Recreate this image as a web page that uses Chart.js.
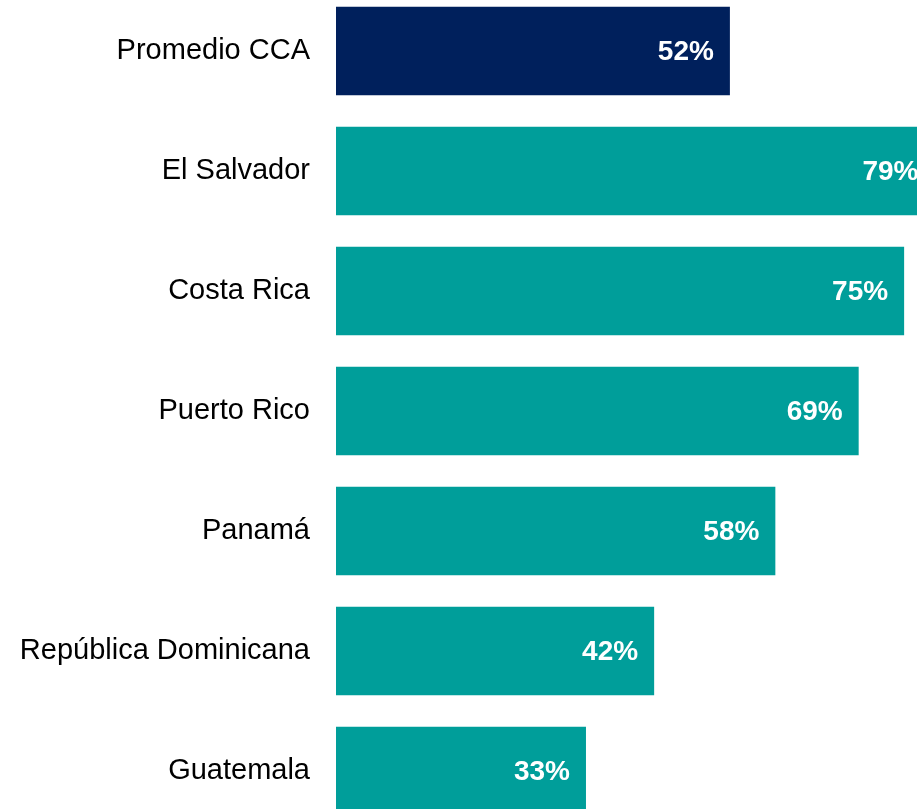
<!DOCTYPE html>
<html lang="es">
<head>
<meta charset="utf-8">
<title>Promedio CCA</title>
<script src="https://cdn.jsdelivr.net/npm/chart.js@4.4.1/dist/chart.umd.min.js"></script>
<style>
  html, body {
    margin: 0;
    padding: 0;
    background: #ffffff;
    overflow: hidden;
  }
  #chartBox {
    position: absolute;
    left: 0;
    top: -9px;
    width: 942px;
    height: 840px;
  }
</style>
</head>
<body>
<div id="chartBox"><canvas id="myChart"></canvas></div>
<script>
const countries = [
  "Promedio CCA",
  "El Salvador",
  "Costa Rica",
  "Puerto Rico",
  "Panamá",
  "República Dominicana",
  "Guatemala",
];
const percentages = [52, 79, 75, 69, 58, 42, 33];

const navy = "#00205c";
const teal = "#009e9a";
const fontFamily = "'Liberation Sans', Arial, Helvetica, sans-serif";

// first bar is the regional average, the rest are countries
let barColors = countries.map((name, i) => (i === 0 ? navy : teal));

// white bold value at the inner end of each bar
const valueLabels = {
  id: "valueLabels",
  afterDatasetsDraw(chart) {
    let ctx = chart.ctx;
    let meta = chart.getDatasetMeta(0);
    ctx.save();
    ctx.fillStyle = "#ffffff";
    ctx.font = "bold 28px " + fontFamily;
    ctx.textAlign = "right";
    ctx.textBaseline = "middle";
    meta.data.forEach((bar, i) => {
      ctx.fillText(percentages[i] + "%", bar.x - 16, bar.y + 1);
    });
    ctx.restore();
  },
};

new Chart("myChart", {
  type: "bar",
  data: {
    labels: countries,
    datasets: [
      {
        data: percentages,
        backgroundColor: barColors,
        borderWidth: 0,
        categoryPercentage: 1,
        barPercentage: 0.738,
      },
    ],
  },
  options: {
    indexAxis: "y",
    responsive: true,
    maintainAspectRatio: false,
    animation: false,
    layout: { padding: 0 },
    plugins: {
      legend: { display: false },
      tooltip: { enabled: false },
    },
    scales: {
      x: {
        display: false,
        min: 0,
        max: 80,
      },
      y: {
        afterFit(scale) {
          // fixed label column, bars fill the whole height
          scale.width = 336;
          scale.paddingTop = 0;
          scale.paddingBottom = 0;
        },
        grid: { display: false, drawTicks: false },
        border: { display: false },
        ticks: {
          padding: 26,
          color: "#000000",
          font: { family: fontFamily, size: 29 },
        },
      },
    },
  },
  plugins: [valueLabels],
});
</script>
</body>
</html>
